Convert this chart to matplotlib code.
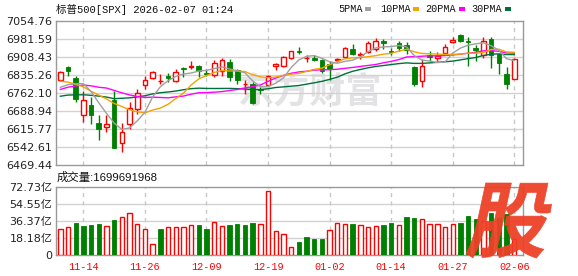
import numpy as np
import pandas as pd
import matplotlib
matplotlib.use('Agg')
import matplotlib.pyplot as plt
from matplotlib.patches import Rectangle, PathPatch
from matplotlib.textpath import TextPath
from matplotlib.font_manager import FontProperties
from matplotlib.transforms import Affine2D, IdentityTransform

# ---------------- data ----------------
dates = ['11-11', '11-12', '11-13', '11-14', '11-17', '11-18', '11-19', '11-20', '11-21', '11-24',
         '11-25', '11-26', '11-28', '12-01', '12-02', '12-03', '12-04', '12-05', '12-08', '12-09',
         '12-10', '12-11', '12-12', '12-15', '12-16', '12-17', '12-18', '12-19', '12-22', '12-23',
         '12-24', '12-26', '12-29', '12-30', '12-31', '01-02', '01-05', '01-06', '01-07', '01-08',
         '01-09', '01-12', '01-13', '01-14', '01-15', '01-16', '01-20', '01-21', '01-22', '01-23',
         '01-26', '01-27', '01-28', '01-29', '01-30', '02-02', '02-03', '02-04', '02-05', '02-06']

opens = [6815.7, 6866.9, 6825.1, 6674.2, 6712.0, 6640.6, 6624.4, 6734.9, 6557.0, 6637.9,
         6698.5, 6795.5, 6822.4, 6809.0, 6829.2, 6811.7, 6864.0, 6866.0, 6873.6, 6843.0,
         6835.9, 6853.4, 6887.1, 6856.1, 6797.0, 6799.5, 6779.0, 6792.8, 6870.9, 6870.9,
         6904.6, 6932.0, 6903.0, 6903.0, 6897.9, 6880.4, 6895.0, 6910.0, 6941.0, 6917.0,
         6930.2, 6941.0, 6974.7, 6934.0, 6965.3, 6957.0, 6866.9, 6810.3, 6916.0, 6906.0,
         6923.5, 6968.0, 6997.6, 6974.7, 6945.0, 6916.8, 6981.4, 6920.8, 6837.3, 6819.0]

highs = [6853.4, 6870.9, 6830.5, 6768.6, 6745.7, 6671.6, 6671.6, 6768.6, 6640.6, 6725.4,
         6779.3, 6830.5, 6853.4, 6840.0, 6844.0, 6860.2, 6866.0, 6894.0, 6876.0, 6860.0,
         6896.5, 6903.3, 6900.6, 6860.2, 6815.7, 6806.3, 6786.0, 6837.0, 6883.0, 6914.0,
         6934.3, 6947.7, 6916.8, 6916.8, 6900.0, 6893.9, 6903.0, 6947.7, 6961.2, 6927.5,
         6974.7, 6984.0, 6981.4, 6945.0, 6974.7, 6968.0, 6870.9, 6900.6, 6934.0, 6930.2,
         6961.0, 6988.0, 7000.0, 6990.9, 6957.2, 6988.0, 6988.0, 6920.8, 6867.0, 6903.3]

lows = [6809.0, 6833.2, 6725.4, 6644.6, 6637.9, 6570.5, 6604.2, 6536.8, 6520.7, 6617.7,
        6678.3, 6779.3, 6817.1, 6799.5, 6806.3, 6806.3, 6826.0, 6860.2, 6826.5, 6830.5,
        6826.5, 6830.5, 6809.0, 6799.5, 6756.4, 6718.7, 6756.4, 6788.8, 6856.0, 6866.9,
        6900.6, 6920.8, 6889.8, 6893.8, 6843.0, 6815.0, 6890.0, 6907.3, 6917.0, 6900.6,
        6925.0, 6934.0, 6941.0, 6915.0, 6934.3, 6921.0, 6788.8, 6786.1, 6893.8, 6893.9,
        6920.8, 6965.0, 6970.6, 6871.0, 6893.9, 6904.6, 6862.9, 6840.0, 6776.6, 6817.0]

closes = [6846.7, 6852.1, 6737.6, 6732.2, 6671.6, 6617.7, 6637.9, 6539.5, 6602.8, 6702.5,
          6761.8, 6813.0, 6849.4, 6811.6, 6825.1, 6849.4, 6860.0, 6871.0, 6850.7, 6840.0,
          6884.4, 6896.5, 6826.5, 6813.0, 6800.0, 6721.4, 6775.0, 6833.2, 6880.4, 6907.3,
          6931.6, 6930.0, 6906.0, 6896.0, 6852.0, 6860.2, 6901.0, 6943.7, 6920.8, 6921.5,
          6965.3, 6974.7, 6965.3, 6927.0, 6943.7, 6938.0, 6796.8, 6873.6, 6908.0, 6912.0,
          6950.4, 6977.4, 6974.7, 6968.0, 6938.3, 6972.0, 6916.8, 6883.1, 6796.8, 6900.6]

# closes before the visible window (needed for the moving averages)
prior_closes = [6711.20, 6715.35, 6715.79, 6740.28, 6714.59, 6753.72, 6735.11, 6552.51,
                6654.72, 6644.31, 6671.06, 6629.07, 6664.01, 6735.13, 6735.35, 6699.40,
                6738.44, 6791.69, 6875.16, 6890.89, 6890.59, 6822.34, 6840.20, 6851.97,
                6771.55, 6796.29, 6720.32, 6728.80, 6832.43]

volumes = [27.45, 29.9, 34.2, 31.0, 32.1, 33.2, 30.7, 37.4, 40.3, 44.6,
           32.8, 27.5, 11.4, 27.8, 29.9, 29.9, 29.9, 31.7, 31.7, 27.8,
           34.9, 30.7, 31.7, 32.8, 31.7, 33.9, 32.8, 68.4, 25.3, 22.1,
           8.6, 13.5, 19.3, 17.1, 17.1, 26.4, 33.9, 32.8, 32.8, 31.7,
           29.9, 30.7, 31.7, 33.9, 31.7, 40.3, 39.6, 38.1, 32.8, 32.8,
           29.9, 32.8, 33.9, 41.7, 38.0, 36.0, 44.9, 40.0, 43.9, 17.0]

price_ticks = [6469.44, 6542.61, 6615.77, 6688.94, 6762.10, 6835.26, 6908.43, 6981.59, 7054.76]
price_tick_labels = ['6469.44', '6542.61', '6615.77', '6688.94', '6762.10', '6835.26',
                     '6908.43', '6981.59', '7054.76']
vol_ticks = [0, 18.18, 36.37, 54.55, 72.73]
vol_tick_labels = ['0', '18.18亿', '36.37亿', '54.55亿', '72.73亿']
x_tick_dates = ['11-14', '11-26', '12-09', '12-19', '01-02', '01-14', '01-27', '02-06']

ma_periods = [5, 10, 20, 30]
ma_names = ['5PMA', '10PMA', '20PMA', '30PMA']
ma_colors = ['#a0a0a0', '#f5a300', '#ff00ff', '#00703a']

title_text = '标普500[SPX] 2026-02-07 01:24'
volume_text = '成交量:1699691968'

# ---------------- styles ----------------
RED = '#ff0000'
GREEN = '#008000'
GRID = '#d2d2d2'
SPINE = '#999999'
CJK = 'Noto Sans CJK SC'

W, H = 578, 276
fig = plt.figure(figsize=(W / 100, H / 100), dpi=100)
fig.patch.set_facecolor('white')


def px_axes(x0, y0, x1, y1):
    return fig.add_axes([x0 / W, 1 - y1 / H, (x1 - x0) / W, (y1 - y0) / H])


def ftext(x, y, s, **kw):
    return fig.text(x / W, 1 - y / H, s, **kw)


ax = px_axes(56, 21, 522.5, 165)
axv = px_axes(56, 187, 522.5, 255)

n = len(closes)
xs = np.arange(n)
xlim = (-0.56, 60.07)
tick_idx = [dates.index(d) for d in x_tick_dates]

# ---------------- main price panel ----------------
ax.set_xlim(*xlim)
ax.set_ylim(price_ticks[0], price_ticks[-1])
for v in price_ticks[1:-1]:
    ax.axhline(v, color=GRID, lw=1, zorder=1)
for i in tick_idx:
    ax.axvline(i, color='#c8c8c8', lw=1, ls=(0, (3, 3)), zorder=1)

# watermark
ax.text(0.545, 0.51, '东方财富', transform=ax.transAxes, ha='center', va='center',
        fontsize=26, family=CJK, fontweight='bold', color='#e3e3e6', zorder=0.5)

bw = 0.6
for i in range(n):
    o, h, l, c = opens[i], highs[i], lows[i], closes[i]
    if c >= o:
        top, bot = c, o
        ax.add_patch(Rectangle((i - bw / 2, bot), bw, max(top - bot, 0.5), facecolor='white',
                               edgecolor=RED, lw=1.0, zorder=3))
        ax.plot([i, i], [top, h], color=RED, lw=1.0, zorder=3, solid_capstyle='butt')
        ax.plot([i, i], [l, bot], color=RED, lw=1.0, zorder=3, solid_capstyle='butt')
    else:
        ax.plot([i, i], [l, h], color=GREEN, lw=1.0, zorder=3, solid_capstyle='butt')
        ax.add_patch(Rectangle((i - bw / 2, c), bw, max(o - c, 0.5), facecolor=GREEN,
                               edgecolor=GREEN, lw=0.6, zorder=3))

all_closes = pd.Series(prior_closes + closes)
for p, col in zip(ma_periods[::-1], ma_colors[::-1]):
    ma = all_closes.rolling(p).mean().values[len(prior_closes):]
    ax.plot(xs, ma, color=col, lw=1.0, zorder=4)

ax.set_xticks([])
ax.set_yticks(price_ticks)
ax.set_yticklabels(price_tick_labels, fontsize=8, color='#222222', family='DejaVu Sans')
ax.tick_params(axis='y', length=0, pad=2.5)
for s in ax.spines.values():
    s.set_color(SPINE)
    s.set_linewidth(1.0)

# ---------------- volume panel ----------------
axv.set_xlim(*xlim)
axv.set_ylim(0, vol_ticks[-1])
for v in vol_ticks[1:-1]:
    axv.axhline(v, color=GRID, lw=1, zorder=1)
for i in tick_idx:
    axv.axvline(i, color='#c8c8c8', lw=1, ls=(0, (3, 3)), zorder=1)

vbw = 0.57
for i in range(n):
    prev = all_closes.iloc[len(prior_closes) + i - 1]
    if closes[i] >= prev:
        axv.add_patch(Rectangle((i - vbw / 2, 0), vbw, volumes[i], facecolor='white',
                                edgecolor=RED, lw=1.0, zorder=3))
    else:
        axv.add_patch(Rectangle((i - vbw / 2, 0), vbw, volumes[i], facecolor=GREEN,
                                edgecolor=GREEN, lw=0.6, zorder=3))

axv.set_yticks(vol_ticks)
axv.set_yticklabels(vol_tick_labels, fontsize=8, color='#222222', family=['DejaVu Sans', CJK])
axv.set_xticks(tick_idx)
axv.set_xticklabels(x_tick_dates, fontsize=7.3, color=RED, family='Liberation Mono')
axv.tick_params(axis='both', length=0)
axv.tick_params(axis='y', pad=2.5)
axv.tick_params(axis='x', pad=5)
for s in axv.spines.values():
    s.set_color(SPINE)
    s.set_linewidth(1.0)

# ---------------- texts ----------------
ftext(56.5, 9.5, title_text, fontsize=7.6, family=['Liberation Mono', CJK],
      color='#111111', va='center', ha='left')
ftext(57, 177.5, volume_text, fontsize=8.2, family=['Liberation Sans', CJK],
      color='#111111', va='center', ha='left')

legend_x = [338, 380, 425, 471.5]
square_x = [365, 413, 459, 505]
for name, col, tx, sx in zip(ma_names, ma_colors, legend_x, square_x):
    ftext(tx, 9.5, name, fontsize=7.3, family='Liberation Mono', color='#111111',
          va='center', ha='left')
    fig.add_artist(Rectangle((sx / W, 1 - 10.5 / H), 6 / W, 3 / H, transform=fig.transFigure,
                             facecolor=col, edgecolor='none'))

# ---------------- "股" badge ----------------
fp = FontProperties(family=CJK, weight='heavy')
tp = TextPath((0, 0), '股', size=1, prop=fp)
ext = tp.get_extents()
bx0, bx1, by_top, by_bot = 465, 558, 183, 258
hgt = by_bot - by_top
shear = np.tan(np.radians(12))
sy = hgt / ext.height
sx = ((bx1 - bx0) - hgt * shear) / ext.width
tr = (Affine2D().translate(-ext.x0, -ext.y0).scale(sx, sy).skew(shear, 0)
      .translate(bx0, H - by_bot))
badge = tr.transform_path(tp)
fig.add_artist(PathPatch(badge, transform=IdentityTransform(), facecolor='#ee4128',
                         edgecolor='#ee4128', lw=0.5, alpha=0.95, zorder=10))

fig.savefig('out.png', dpi=100, facecolor='white')
